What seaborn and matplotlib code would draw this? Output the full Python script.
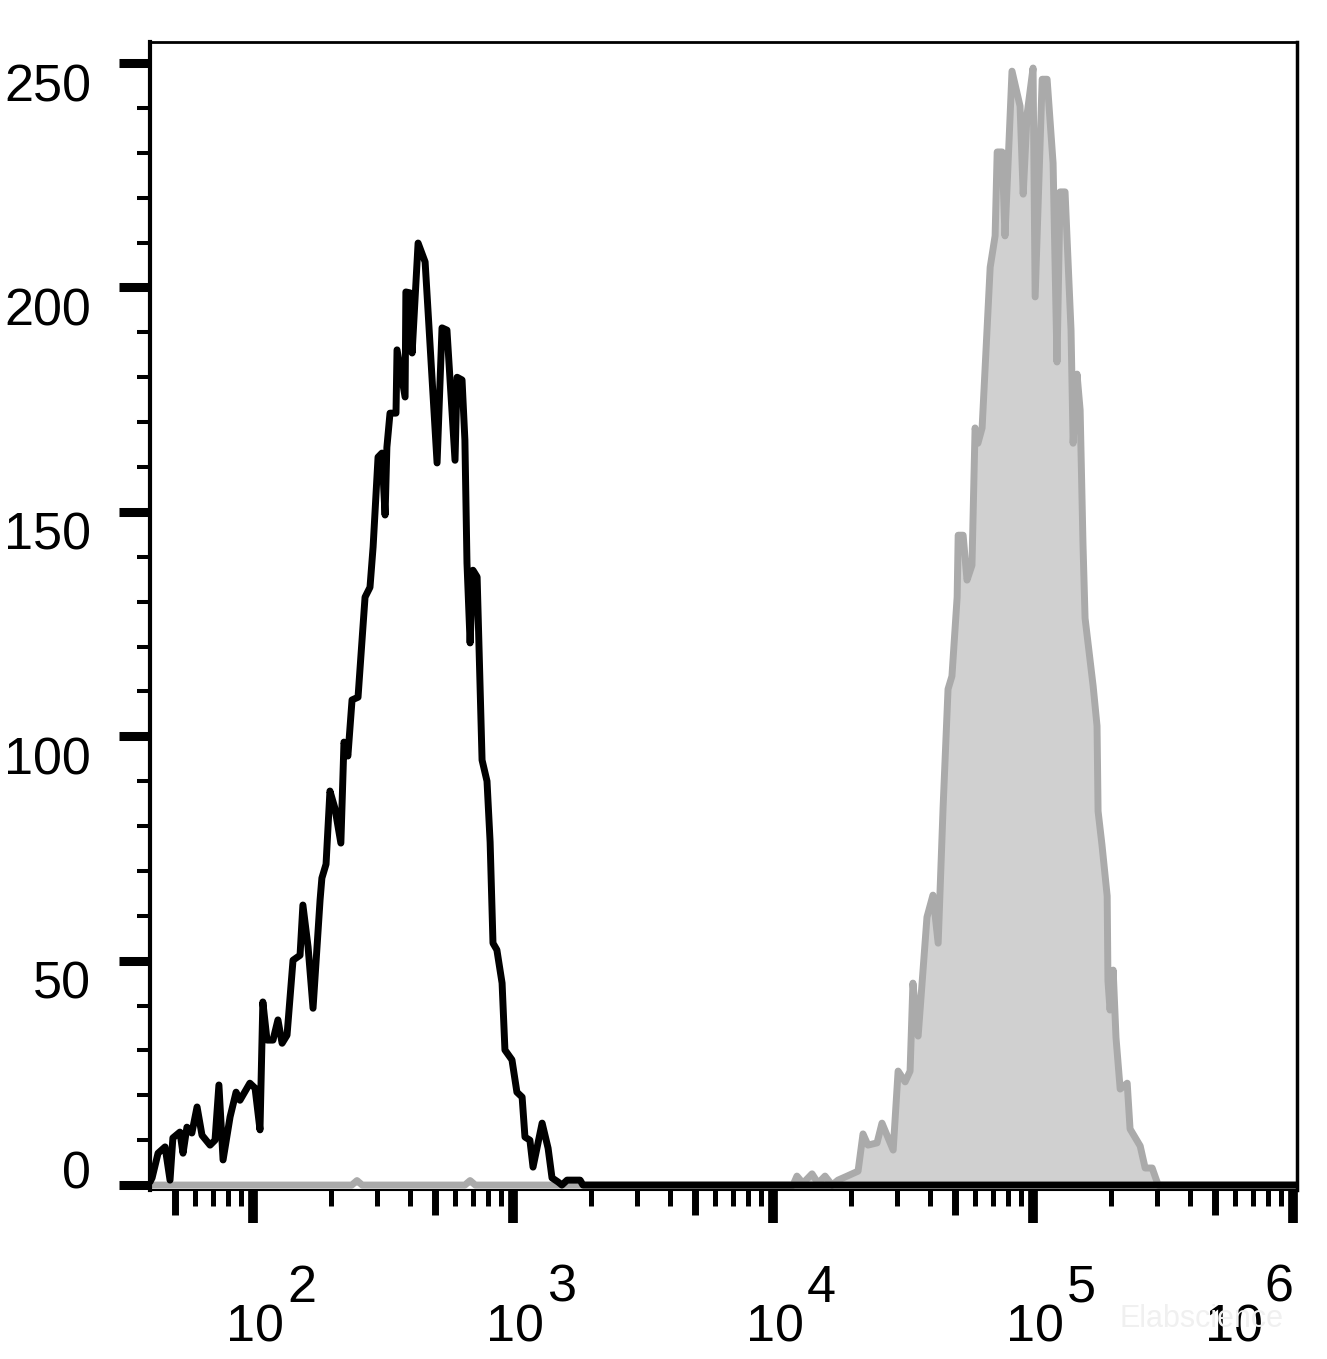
import numpy as np
import pandas as pd
import seaborn as sns
import matplotlib
matplotlib.use('Agg')
from matplotlib import pyplot as plt
from matplotlib import ticker, transforms

# log10 of the fluorescence channel and event count
black_log = [1.604, 1.612, 1.635, 1.662, 1.681, 1.692, 1.719, 1.731, 1.746, 1.765,
             1.785, 1.804, 1.835, 1.854, 1.869, 1.885, 1.912, 1.935, 1.950, 1.988,
             2.008, 2.027, 2.038, 2.054, 2.077, 2.096, 2.112, 2.131, 2.154, 2.181,
             2.192, 2.212, 2.231, 2.258, 2.265, 2.281, 2.296, 2.315, 2.338, 2.350,
             2.365, 2.381, 2.404, 2.431, 2.450, 2.462, 2.481, 2.496, 2.508, 2.515,
             2.527, 2.550, 2.554, 2.585, 2.588, 2.604, 2.612, 2.635, 2.662, 2.708,
             2.727, 2.746, 2.777, 2.785, 2.804, 2.815, 2.823, 2.835, 2.846, 2.862,
             2.881, 2.900, 2.912, 2.923, 2.938, 2.958, 2.969, 2.996, 3.015, 3.035,
             3.046, 3.065, 3.077, 3.112, 3.135, 3.150, 3.173, 3.188, 3.208, 3.258,
             3.269, 6.015]
black_count = [0.7, 1.6, 7.1, 8.5, 1.1, 10.5, 11.8, 7.1, 12.9, 11.6,
               17.4, 11.1, 8.9, 10.0, 22.3, 5.6, 15.2, 20.7, 18.9, 22.7,
               21.6, 12.3, 40.8, 32.3, 32.3, 36.8, 31.6, 33.4, 50.1, 51.2,
               62.4, 53.0, 39.4, 63.5, 68.4, 71.5, 87.8, 84.0, 76.2, 98.7,
               95.6, 108.1, 108.7, 131.0, 133.2, 142.2, 162.2, 163.1, 149.3, 164.4,
               172.0, 172.0, 186.1, 175.6, 199.0, 198.8, 185.4, 209.9, 205.7, 160.9,
               191.0, 190.5, 161.5, 180.0, 179.4, 166.0, 138.6, 120.8, 137.0, 135.5,
               94.7, 90.0, 76.4, 53.9, 52.4, 45.0, 30.1, 27.9, 20.7, 19.6,
               10.7, 10.0, 4.0, 13.8, 8.2, 1.6, 0.7, 0, 1.1, 1.1,
               0, 0]

gray_log = [1.604, 2.380, 2.400, 2.420, 2.815, 2.835, 2.855, 4.077, 4.092, 4.115,
            4.150, 4.173, 4.200, 4.227, 4.250, 4.285, 4.327, 4.346, 4.365, 4.400,
            4.419, 4.462, 4.481, 4.508, 4.527, 4.538, 4.558, 4.592, 4.615, 4.635,
            4.654, 4.673, 4.688, 4.708, 4.712, 4.731, 4.746, 4.765, 4.777, 4.788,
            4.804, 4.835, 4.854, 4.862, 4.881, 4.892, 4.919, 4.950, 4.962, 4.977,
            5.000, 5.008, 5.035, 5.054, 5.077, 5.092, 5.104, 5.123, 5.146, 5.154,
            5.169, 5.181, 5.192, 5.200, 5.231, 5.246, 5.250, 5.265, 5.285, 5.288,
            5.296, 5.308, 5.319, 5.335, 5.362, 5.373, 5.412, 5.431, 5.458, 5.481,
            6.015]
gray_count = [0, 0, 1.0, 0, 0, 1.0, 0, 0, 2.0, 0.4,
              2.5, 0.4, 2.0, 0, 1.1, 2.0, 3.1, 11.4, 8.9, 9.4,
              13.8, 7.8, 25.4, 23.0, 25.4, 45.0, 33.2, 59.7, 64.6, 53.9,
              84.2, 110.5, 113.4, 131.0, 144.8, 144.8, 134.8, 138.1, 168.7, 165.3,
              168.7, 204.5, 211.5, 230.2, 230.2, 211.5, 248.2, 240.4, 220.8, 238.6,
              248.9, 197.9, 246.4, 246.4, 227.7, 183.4, 221.3, 221.3, 190.5, 165.3,
              180.7, 172.7, 142.8, 126.3, 111.2, 102.3, 83.3, 75.8, 64.4, 45.5,
              39.0, 47.9, 32.8, 21.4, 22.7, 12.5, 8.7, 3.8, 3.8, 0,
              0]

x_exponents = [2, 3, 4, 5, 6]
y_ticks = [0, 50, 100, 150, 200, 250]

sns.set_style('ticks')
plt.rcParams['font.family'] = ['Liberation Sans', 'DejaVu Sans']
plt.rcParams['text.color'] = 'black'

W, H = 1327, 1359
fig = plt.figure(figsize=(W / 100, H / 100), dpi=100)
ax = fig.add_axes([150 / W, 1 - 1190 / H, 1147 / W, (1190 - 42) / H])

black = pd.DataFrame({'fl': 10 ** np.array(black_log), 'count': black_count})
gray = pd.DataFrame({'fl': 10 ** np.array(gray_log), 'count': gray_count})

ax.set_xscale('log')
ax.fill_between(gray['fl'], 0, gray['count'], color='#d0d0d0', lw=0, zorder=1)
sns.lineplot(data=gray, x='fl', y='count', color='#aaaaaa', lw=5.0,
             estimator=None, sort=False, ax=ax, zorder=2)
sns.lineplot(data=black, x='fl', y='count', color='black', lw=5.0,
             estimator=None, sort=False, ax=ax, zorder=3)
ax.set_xlabel('')
ax.set_ylabel('')
ax.set_xlim(10 ** 1.604, 10 ** 6.015)
ax.set_ylim(-1.1, 254.7)

# ticks
ax.xaxis.set_major_locator(ticker.FixedLocator([10.0 ** e for e in x_exponents]))
ax.xaxis.set_minor_locator(ticker.LogLocator(base=10, subs=[2, 3, 4, 6, 7, 8, 9], numticks=60))
ax.xaxis.set_major_formatter(ticker.NullFormatter())
ax.xaxis.set_minor_formatter(ticker.NullFormatter())
ax.tick_params(axis='x', which='major', direction='out', length=24, width=7,
               bottom=True, top=False, color='black')
ax.tick_params(axis='x', which='minor', direction='out', length=11.5, width=3.6,
               bottom=True, top=False, color='black')
ax.yaxis.set_major_locator(ticker.FixedLocator(y_ticks))
ax.yaxis.set_minor_locator(ticker.MultipleLocator(10))
ax.yaxis.set_major_formatter(ticker.NullFormatter())
ax.tick_params(axis='y', which='major', direction='out', length=22, width=6.5,
               left=True, right=False, color='black')
ax.tick_params(axis='y', which='minor', direction='out', length=9.5, width=2.9,
               left=True, right=False, color='black')

# medium ticks at 5 x 10^n
ax5 = ax.twiny()
ax5.set_xscale('log')
ax5.set_xlim(ax.get_xlim())
ax5.xaxis.set_ticks_position('bottom')
ax5.xaxis.set_major_locator(ticker.FixedLocator([5 * 10.0 ** e for e in range(1, 6)]))
ax5.xaxis.set_minor_locator(ticker.NullLocator())
ax5.xaxis.set_major_formatter(ticker.NullFormatter())
ax5.tick_params(axis='x', which='major', direction='out', length=18, width=5,
                bottom=True, top=False, labelbottom=False, labeltop=False, color='black')
for s in ax5.spines.values():
    s.set_visible(False)

for side, lw in [('left', 3), ('right', 2.5), ('top', 2), ('bottom', 1.5)]:
    ax.spines[side].set_linewidth(lw)
    ax.spines[side].set_color('black')

# faint watermark
fig.text(1120 / W, 1 - 1327 / H, 'Elabscience', fontsize=22, color='#f0f0f0',
         ha='left', va='baseline')

# y labels
for v in y_ticks:
    dy = 3 if v == 0 else 38
    tr = transforms.blended_transform_factory(fig.transFigure, ax.transData) + \
        transforms.ScaledTranslation(0, -dy / 100, fig.dpi_scale_trans)
    fig.text(91 / W, v, str(v), transform=tr, ha='right', va='baseline',
             fontsize=37.5, color='black')

# x labels: 10 with a full-size exponent
for e in x_exponents:
    dx_base, dx_exp = (2, 34) if e < 6 else (-59, -29)
    tr_b = transforms.blended_transform_factory(ax.transData, fig.transFigure) + \
        transforms.ScaledTranslation(dx_base / 100, 0, fig.dpi_scale_trans)
    tr_e = transforms.blended_transform_factory(ax.transData, fig.transFigure) + \
        transforms.ScaledTranslation(dx_exp / 100, 0, fig.dpi_scale_trans)
    ax.text(10.0 ** e, 1 - 1342 / H, '10', transform=tr_b, ha='center', va='baseline',
            fontsize=37.5, color='black')
    ax.text(10.0 ** e, 1 - 1302 / H, str(e), transform=tr_e, ha='left', va='baseline',
            fontsize=37.5, color='black')

fig.savefig('out.png', dpi=100)
